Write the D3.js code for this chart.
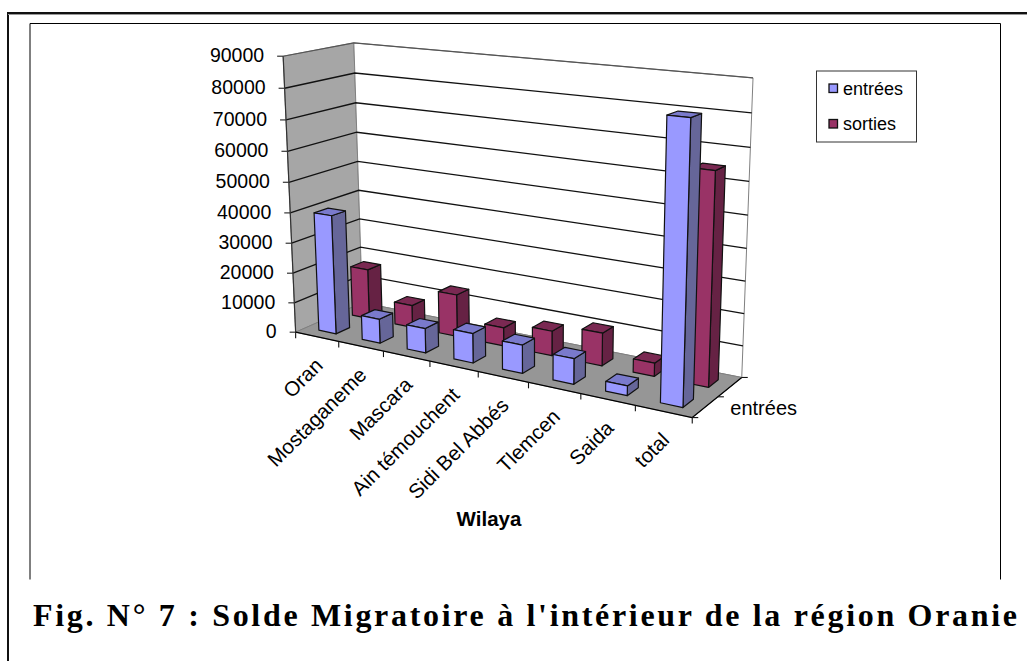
<!DOCTYPE html>
<html><head><meta charset="utf-8">
<script src="https://cdn.jsdelivr.net/npm/d3@7"></script>
<style>html,body{margin:0;padding:0;background:#fff}svg{display:block}</style>
</head><body><svg id="c" width="1027" height="661"></svg>
<script>
const categories = ["Oran","Mostaganeme","Mascara","Ain témouchent","Sidi Bel Abbés","Tlemcen","Saida","total"];
const seriesNames = ["entrées","sorties"];
const entrees = [39500,8000,8000,9500,9000,8000,3000,83000];
const sorties = [17000,7500,14000,6000,8000,10500,4200,65000];
const valueTicks = [0,10000,20000,30000,40000,50000,60000,70000,80000,90000];
const titleText = "Fig. N° 7 : Solde Migratoire à l'intérieur de la région Oranie";
const axisTitle = "Wilaya";

// chart-box corners of the perspective view: [cat 0..1, value 0..1, depth 0..1] -> pixel
const anchors = [
  [[0,0,0],[296,332]],[[1,0,0],[692,418]],[[0,0,1],[362,303]],[[1,0,1],[742,377]],
  [[0,1,0],[283,56]],[[0,1,1],[354,43]],[[1,1,1],[753,78]]
];
function solve(A,b){const n=b.length;const M=A.map((r,i)=>[...r,b[i]]);
  for(let i=0;i<n;i++){let p=i;for(let k=i+1;k<n;k++)if(Math.abs(M[k][i])>Math.abs(M[p][i]))p=k;
    [M[i],M[p]]=[M[p],M[i]];
    for(let k=0;k<n;k++){if(k===i)continue;const f=M[k][i]/M[i][i];for(let j=i;j<=n;j++)M[k][j]-=f*M[i][j];}}
  return M.map((r,i)=>r[n]/r[i]);}
const rows=[],rhs=[];
anchors.forEach(([[x,y,z],[u,v]])=>{u/=1000;v/=1000;
  rows.push([x,y,z,1,0,0,0,0,-u*x,-u*y,-u*z]);rhs.push(u);
  rows.push([0,0,0,0,x,y,z,1,-v*x,-v*y,-v*z]);rhs.push(v);});
const ATA=d3.range(11).map(i=>d3.range(11).map(j=>d3.sum(rows,r=>r[i]*r[j])));
const ATb=d3.range(11).map(i=>d3.sum(rows,(r,k)=>r[i]*rhs[k]));
const P=solve(ATA,ATb);
const proj=(x,y,z)=>{const w=P[8]*x+P[9]*y+P[10]*z+1;
  return [1000*(P[0]*x+P[1]*y+P[2]*z+P[3])/w,1000*(P[4]*x+P[5]*y+P[6]*z+P[7])/w];};

const xBand=d3.scaleBand().domain(categories).range([0,1]).paddingInner(0.6).paddingOuter(0.3);
const zBand=d3.scaleBand().domain(seriesNames).range([0,1]).paddingInner(0.6).paddingOuter(0.3);
const yS=d3.scaleLinear().domain([0,90000]).range([0,1]);
const poly=pts=>"M"+pts.map(p=>p.map(v=>v.toFixed(2)).join(",")).join("L")+"Z";
const line=(a,b)=>"M"+a.join(",")+"L"+b.join(",");
const svg=d3.select("#c");
const sans="'Liberation Sans',Arial,sans-serif";

// frames
svg.append("path").attr("d","M8,661V13H1027").attr("fill","none").attr("stroke","#111").attr("stroke-width",2);
svg.append("path").attr("d","M8,14.5H1027").attr("stroke","#999").attr("stroke-width",1);
svg.append("path").attr("d","M30,579.5V23.5H1000.5V579.5").attr("fill","none").attr("stroke","#000").attr("stroke-width",1);

// walls
svg.append("path").attr("d",poly([proj(0,0,0),proj(0,1,0),proj(0,1,1),proj(0,0,1)])).attr("fill","#a6a6a6").attr("stroke","#808080");
svg.append("path").attr("d",poly([proj(0,0,1),proj(0,1,1),proj(1,1,1),proj(1,0,1)])).attr("fill","#fff").attr("stroke","#808080");
svg.append("path").attr("d",poly([proj(0,0,0),proj(1,0,0),proj(1,0,1),proj(0,0,1)])).attr("fill","#969696").attr("stroke","#808080");

// gridlines + value axis
const grid=svg.append("g");
valueTicks.forEach(v=>{const t=yS(v);
  const a=proj(0,t,0),b=proj(0,t,1),c=proj(1,t,1);
  if(v>0&&v<90000){
    grid.append("path").attr("d","M"+a+"L"+b+"L"+c).attr("fill","none").attr("stroke","#111").attr("stroke-width",1.3);
  } else if(v===90000){
    grid.append("path").attr("d","M"+a+"L"+b+"L"+c).attr("fill","none").attr("stroke","#555").attr("stroke-width",1.1);
  }
  grid.append("path").attr("d",line([a[0]-6,a[1]],a)).attr("stroke","#222").attr("stroke-width",1.1);
  svg.append("text").attr("x",a[0]-19).attr("y",a[1]+6).attr("text-anchor","end")
    .attr("font-family",sans).attr("font-size",19.5).attr("fill","#000").text(v);
});
grid.append("path").attr("d",line(proj(0,0,0),proj(0,1,0))).attr("stroke","#333").attr("stroke-width",1.2);

// floor edges and ticks
grid.append("path").attr("d",line(proj(0,0,0),proj(1,0,0))+line(proj(1,0,0),proj(1,0,1))).attr("stroke","#000").attr("stroke-width",1.2).attr("fill","none");
d3.range(0,9).forEach(i=>{const a=proj(i/8,0,0);
  grid.append("path").attr("d",line(a,[a[0],a[1]+6])).attr("stroke","#111").attr("stroke-width",1.1);});
[0,0.5,1].forEach(d=>{const a=proj(1,0,d);
  grid.append("path").attr("d",line(a,[a[0]+6,a[1]])).attr("stroke","#111").attr("stroke-width",1.1);});

// bars
const styles={ "entrées":{front:"#9999ff",side:"#666699",top:"#7a7acc"}, "sorties":{front:"#993366",side:"#662244",top:"#7a2952"} };
function bar(cat,name,val){
  const x0=xBand(cat),x1=x0+xBand.bandwidth(),z0=zBand(name),z1=z0+zBand.bandwidth(),h=yS(val),s=styles[name];
  const g=svg.append("g").attr("stroke","#111").attr("stroke-width",1.2).attr("stroke-linejoin","round");
  g.append("path").attr("fill",s.side).attr("d",poly([proj(x1,0,z0),proj(x1,h,z0),proj(x1,h,z1),proj(x1,0,z1)]));
  g.append("path").attr("fill",s.top).attr("d",poly([proj(x0,h,z0),proj(x1,h,z0),proj(x1,h,z1),proj(x0,h,z1)]));
  g.append("path").attr("fill",s.front).attr("d",poly([proj(x0,0,z0),proj(x1,0,z0),proj(x1,h,z0),proj(x0,h,z0)]));
}
categories.forEach((c,i)=>bar(c,"sorties",sorties[i]));
categories.forEach((c,i)=>bar(c,"entrées",entrees[i]));

// category labels
categories.forEach(c=>{const p=proj(xBand(c)+xBand.bandwidth()/2,0,0);
  svg.append("text").attr("transform",`translate(${p[0]+7},${p[1]+30}) rotate(-45)`)
    .attr("text-anchor","end").attr("font-family",sans).attr("font-size",20.5).attr("fill","#000").text(c);});
const zl=proj(1,0,zBand("entrées")+zBand.bandwidth()/2);
svg.append("text").attr("x",zl[0]+25).attr("y",zl[1]+8).attr("font-family",sans).attr("font-size",20).attr("fill","#000").text(seriesNames[0]);
svg.append("text").attr("x",489).attr("y",526).attr("text-anchor","middle").attr("font-family",sans).attr("font-weight","bold").attr("font-size",20.5).attr("fill","#000").text(axisTitle);

// legend
svg.append("rect").attr("x",816.5).attr("y",71).attr("width",100).attr("height",71).attr("fill","#fff").attr("stroke","#333");
seriesNames.forEach((n,i)=>{const y=88.5+i*35.5;
  svg.append("rect").attr("x",829).attr("y",y-4.5).attr("width",8.5).attr("height",8.5).attr("fill",styles[n].front).attr("stroke","#111").attr("stroke-width",1.3);
  svg.append("text").attr("x",843).attr("y",y+6).attr("font-family",sans).attr("font-size",18).attr("fill","#000").text(n);});

// caption
svg.append("text").attr("x",33).attr("y",626).attr("textLength",984).attr("lengthAdjust","spacing")
  .attr("font-family","'Liberation Serif','Times New Roman',serif").attr("font-weight","bold").attr("font-size",32).attr("fill","#000").text(titleText);
</script></body></html>
